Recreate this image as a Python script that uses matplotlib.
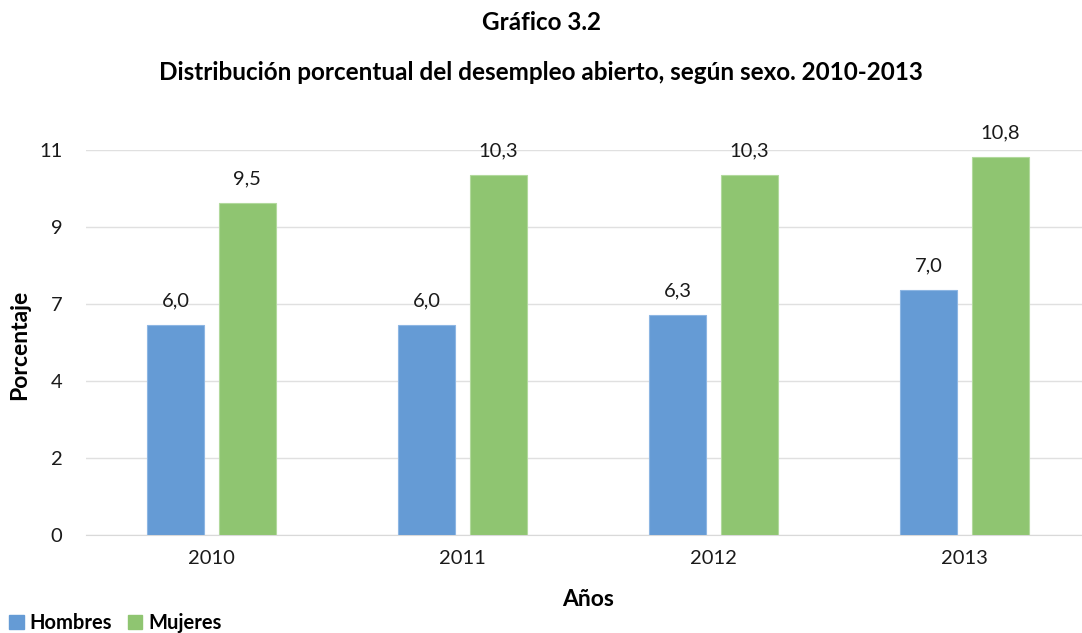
import numpy as np
import matplotlib
matplotlib.use('Agg')
import matplotlib.pyplot as plt
from matplotlib.patches import Patch

plt.rcParams['font.family'] = ['Lato', 'DejaVu Sans']

# data
years = ['2010', '2011', '2012', '2013']
hombres = [6.0, 6.0, 6.3, 7.0]
mujeres = [9.5, 10.3, 10.3, 10.8]

blue = '#659BD5'
green = '#8FC571'

fig = plt.figure(figsize=(10.82, 6.33), dpi=100)
ax = fig.add_axes([86/1082, (633-535)/633, (1090-86)/1082, (535-150)/633])

x = np.arange(len(years))
w = 0.227
off = 0.143
b1 = ax.bar(x - off, hombres, w, color=blue, edgecolor='#8DB6E3', linewidth=0.8, zorder=3)
b2 = ax.bar(x + off, mujeres, w, color=green, edgecolor='#B2D99D', linewidth=0.8, zorder=3)

# value labels with comma decimals
for bars, vals in [(b1, hombres), (b2, mujeres)]:
    for r, v in zip(bars, vals):
        ax.annotate(f'{v:.1f}'.replace('.', ','), (r.get_x() + r.get_width()/2, v),
                    xytext=(0, 11), textcoords='offset points',
                    ha='center', va='bottom', fontsize=14.5, color='#1a1a1a')

ax.set_xlim(-0.5, 3.5)
ax.set_ylim(0, 11)
yt = np.linspace(0, 11, 6)
ax.set_yticks(yt)
ax.set_yticklabels([f'{t:.0f}' for t in yt])
ax.set_xticks(x)
ax.set_xticklabels(years)
ax.tick_params(axis='y', length=0, pad=17, labelsize=14.5, labelcolor='#1a1a1a')
ax.tick_params(axis='x', length=0, pad=11, labelsize=14.5, labelcolor='#1a1a1a')

ax.grid(axis='y', color='#E0E0E0', linewidth=1, zorder=0)
for s in ['top', 'right', 'left']:
    ax.spines[s].set_visible(False)
ax.spines['bottom'].set_color('#D9D9D9')

fig.text(541/1082, 1 - 22/633, 'Gráfico 3.2', ha='center', va='center',
         fontsize=17.5, fontweight='bold')
fig.text(541/1082, 1 - 72/633, 'Distribución porcentual del desempleo abierto, según sexo. 2010-2013',
         ha='center', va='center', fontsize=17.5, fontweight='bold')
fig.text(20/1082, 1 - 345/633, 'Porcentaje', rotation=90, ha='center', va='center',
         fontsize=16.5, fontweight='bold')
fig.text(588/1082, 1 - 600/633, 'Años', ha='center', va='center',
         fontsize=16.5, fontweight='bold')

handles = [Patch(color=blue, label='Hombres'), Patch(color=green, label='Mujeres')]
fig.legend(handles=handles, loc='lower left', bbox_to_anchor=(-0.008, -0.028), ncol=2,
           frameon=False, handlelength=0.7, handleheight=0.7, handletextpad=0.3,
           columnspacing=0.8, prop={'weight': 'bold', 'size': 14.5})

fig.savefig('out.png', dpi=100)
